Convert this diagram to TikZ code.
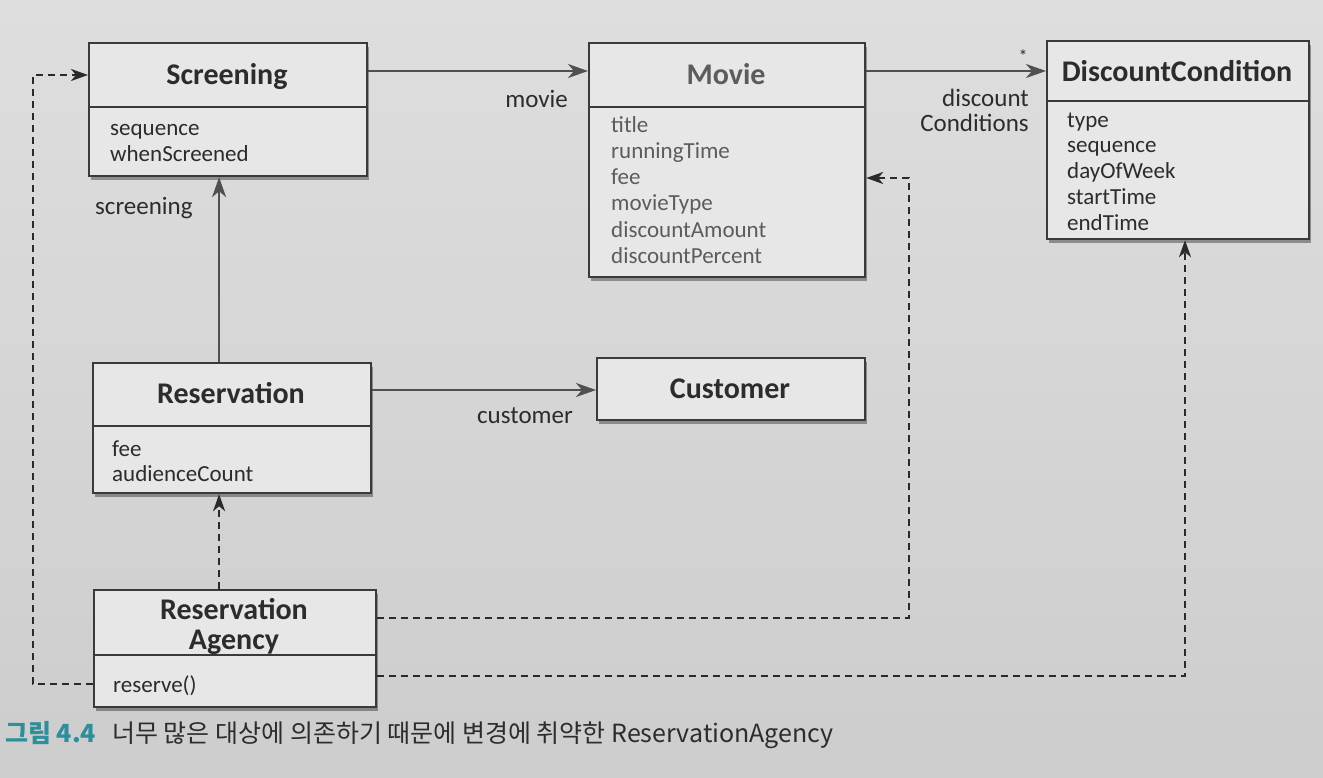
\documentclass[tikz,border=0pt]{standalone}
\usepackage{fontspec}
\setmainfont{Carlito}
\newfontfamily\krfont{Noto Sans CJK KR}
\usetikzlibrary{arrows.meta,shadows}
\definecolor{bgtop}{HTML}{DEDEDE}
\definecolor{bgbot}{HTML}{CDCDCD}
\definecolor{boxfill}{HTML}{E7E7E7}
\definecolor{boxline}{HTML}{3A3A3A}
\definecolor{txt}{HTML}{2C2C2C}
\definecolor{movtxt}{HTML}{5C5C5C}
\definecolor{linegray}{HTML}{505050}
\definecolor{depline}{HTML}{2A2A2A}
\definecolor{capteal}{HTML}{2E8E9C}
\begin{document}
\begin{tikzpicture}[x=1pt,y=-1pt,
  classbox/.style={draw=boxline,line width=2.2pt,fill=boxfill,inner sep=0pt,anchor=north west,
    drop shadow={shadow xshift=2pt,shadow yshift=-4pt,opacity=0.35,fill=black}},
  divider/.style={draw=boxline,line width=1.8pt},
  ctitle/.style={font=\fontsize{30}{32}\selectfont\bfseries,text=txt,anchor=base,inner sep=0pt},
  attr/.style={font=\fontsize{23}{26}\selectfont,text=txt,anchor=base west,inner sep=0pt},
  lbl/.style={font=\fontsize{25}{28}\selectfont,text=txt,inner sep=0pt},
  assoc/.style={draw=linegray,line width=2.2pt,-{Stealth[length=20pt,width=14pt,inset=6pt]}},
  dep/.style={draw=depline,line width=2.4pt,dash pattern=on 7pt off 5pt,-{Stealth[length=17pt,width=12pt,inset=5pt]}}
]
\shade[top color=bgtop,bottom color=bgbot] (0,0) rectangle (1323,777);
\useasboundingbox (0,0) rectangle (1323,777);

% boxes
\node[classbox,minimum width=278pt,minimum height=133pt] (scr) at (88,42) {};
\node[classbox,minimum width=276pt,minimum height=234pt] (mov) at (588,42) {};
\node[classbox,minimum width=262pt,minimum height=198pt] (dc) at (1046,40) {};
\node[classbox,minimum width=278pt,minimum height=130pt] (res) at (92,362) {};
\node[classbox,minimum width=268pt,minimum height=62pt] (cus) at (596,357) {};
\node[classbox,minimum width=282pt,minimum height=117pt] (agy) at (93,589) {};

% dividers
\draw[divider] ([yshift=-65pt]scr.north west) -- ([yshift=-65pt]scr.north east);
\draw[divider] ([yshift=-65pt]mov.north west) -- ([yshift=-65pt]mov.north east);
\draw[divider] ([yshift=-61pt]dc.north west) -- ([yshift=-61pt]dc.north east);
\draw[divider] ([yshift=-64pt]res.north west) -- ([yshift=-64pt]res.north east);
\draw[divider] ([yshift=-66pt]agy.north west) -- ([yshift=-66pt]agy.north east);

% titles
\node[ctitle] (scrt) at (227,84) {Screening};
\node[ctitle,text=movtxt] (movt) at (726,84) {Movie};
\node[ctitle] (dct) at (1177,81) {DiscountCondition};
\node[ctitle] (rest) at (231,403) {Reservation};
\node[ctitle] (cust) at (730,398) {Customer};
\node[ctitle] (agyt1) at (234,619) {Reservation};
\node[ctitle] (agyt2) at (234,649) {Agency};

% attributes
\foreach \t [count=\i] in {sequence,whenScreened}
  \node[attr] (scra\i) at (110,{135+26*(\i-1)}) {\t};
\foreach \t [count=\i] in {title,runningTime,fee,movieType,discountAmount,discountPercent}
  \node[attr,text=movtxt] (mova\i) at (611,{132+26.3*(\i-1)}) {\t};
\foreach \t [count=\i] in {type,sequence,dayOfWeek,startTime,endTime}
  \node[attr] (dca\i) at (1067,{127+25.8*(\i-1)}) {\t};
\foreach \t [count=\i] in {fee,audienceCount}
  \node[attr] (resa\i) at (112,{456+25.5*(\i-1)}) {\t};
\node[attr] (agya1) at (113,692) {reserve()};

% associations
\draw[assoc] ([yshift=-29pt]scr.north east) -- ([yshift=-29pt]mov.north west);
\draw[assoc] ([yshift=-29pt]mov.north east) -- ([yshift=-31pt]dc.north west);
\draw[assoc] ([xshift=-13pt]res.north) -- ([xshift=-9pt]scr.south);
\draw[assoc] ([yshift=-28pt]res.north east) -- ([yshift=-33pt]cus.north west);

% labels
\node[lbl,anchor=base east] (lmovie) at (568,107) {movie};
\node[lbl,anchor=base west] (lscr) at (95,214) {screening};
\node[lbl,anchor=base east] (lcus) at (573,423) {customer};
\node[lbl,anchor=base east,align=right] (ldisc1) at (1029,106) {discount};
\node[lbl,anchor=base east,align=right] (ldisc2) at (1029,131) {Conditions};
\node[lbl,font=\fontsize{18}{20}\selectfont] (lstar) at (1023,56) {*};

% dependencies
\draw[dep] ([xshift=-16pt]agy.north) -- ([xshift=-13pt]res.south);
\draw[dep] ([yshift=-95pt]agy.north west) -- ++(-60,0) |- ([yshift=-33pt]scr.north west);
\draw[dep] ([yshift=-29pt]agy.north east) -- ++(532,0) |- ([yshift=-136pt]mov.north east);
\draw[dep] ([yshift=-87pt]agy.north east) -| ([xshift=139pt]dc.south west);

% caption
\node[anchor=base west,inner sep=0pt,font=\krfont\bfseries\fontsize{25}{27}\selectfont,text=capteal] (cap1) at (5,742) {그림 4.4};
\node[anchor=base west,inner sep=0pt,font=\krfont\fontsize{25}{27}\selectfont,text=txt] (cap2) at (112,742) {너무 많은 대상에 의존하기 때문에 변경에 취약한 ReservationAgency};
\end{tikzpicture}
\end{document}
